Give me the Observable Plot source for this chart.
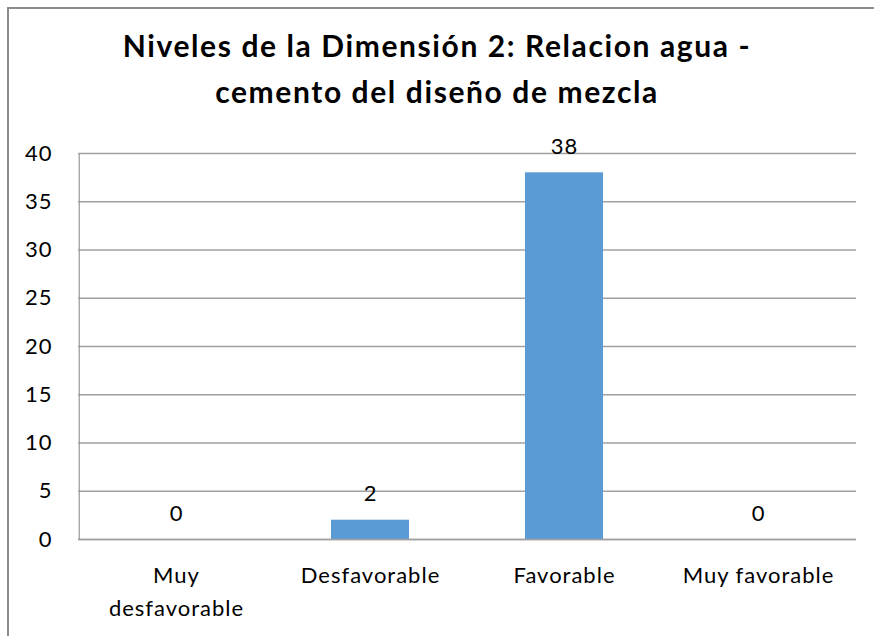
<!DOCTYPE html>
<html><head><meta charset="utf-8">
<script src="https://cdn.jsdelivr.net/npm/d3@7"></script>
<script src="https://cdn.jsdelivr.net/npm/@observablehq/plot@0.6"></script>
<style>
body{margin:0;background:#fff;}
#wrap{position:relative;width:874px;height:636px;overflow:hidden;background:#fff;}
#border{position:absolute;left:7px;top:7px;width:900px;height:700px;border-left:2px solid #8c8c8c;border-top:2px solid #8c8c8c;box-sizing:border-box;}
#title{position:absolute;left:0;top:22px;width:874px;text-align:center;font-family:Lato,"Open Sans",sans-serif;font-weight:bold;font-size:30px;letter-spacing:1.6px;line-height:46px;color:#000;}
#chart{position:absolute;left:0;top:0;}
#chart svg text{letter-spacing:1px;}
</style></head>
<body><div id="wrap"><div id="border"></div><div id="chart"></div>
<div id="title">Niveles de la Dimensión 2: Relacion agua -<br>cemento del diseño de mezcla</div></div>
<script>
const categories = ["Muy desfavorable", "Desfavorable", "Favorable", "Muy favorable"];
const tickLabels = ["Muy\ndesfavorable", "Desfavorable", "Favorable", "Muy favorable"];
const values = [0, 2, 38, 0];
const yTicks = [0, 5, 10, 15, 20, 25, 30, 35, 40];

const data = categories.map((c, i) => ({category: c, value: values[i], label: tickLabels[i]}));
const labelOf = new Map(data.map(d => [d.category, d.label]));

const chart = Plot.plot({
  width: 874,
  height: 636,
  marginLeft: 78,
  marginRight: 18,
  marginTop: 153,
  marginBottom: 97,
  style: {fontFamily: "Lato, 'Open Sans', sans-serif", fontSize: "22px", background: "transparent", color: "#000"},
  x: {domain: categories, paddingInner: 0.6, paddingOuter: 0.3, label: null},
  y: {domain: [0, 40], label: null},
  marks: [
    Plot.gridY(yTicks, {stroke: "#a0a0a0", strokeOpacity: 1, strokeWidth: 1.3}),
    Plot.ruleX([categories[0]], {stroke: "#a0a0a0", strokeWidth: 1.3, dx: -97.25, y1: 0, y2: 40}),
    Plot.barY(data, {x: "category", y: "value", fill: "#5B9BD5"}),
    Plot.ruleY([0], {stroke: "#a0a0a0", strokeWidth: 1.3}),
    Plot.text(data, {x: "category", y: "value", text: d => String(d.value), dy: -26, fontSize: 22, fill: "#000"}),
    Plot.axisY(yTicks, {tickSize: 0, tickPadding: 26, fontSize: 22, label: null}),
    Plot.axisX({tickSize: 0, tickPadding: 20, fontSize: 22, lineHeight: 1.5, tickFormat: c => labelOf.get(c), label: null})
  ]
});
document.getElementById("chart").append(chart);
</script>
</body></html>
